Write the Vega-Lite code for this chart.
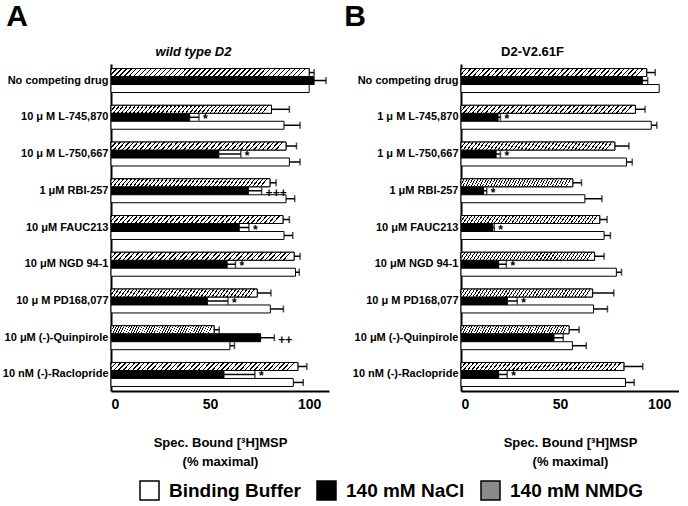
{
  "$schema": "https://vega.github.io/schema/vega-lite/v6.json",
  "padding": {"left": 2, "top": 2, "right": 0, "bottom": 0},
  "spacing": 15,
  "config": {
    "font": "Liberation Sans",
    "view": {"stroke": null},
    "axis": {"domainColor": "black", "labelColor": "black", "titleColor": "black", "grid": false, "ticks": false, "domainWidth": 2},
    "title": {"color": "black"}
  },
  "data": {"values": [
    {"p":"A","d":"No competing drug","c":"140 mM NMDG","v":100,"hi":102.5,"s":""},
    {"p":"A","d":"No competing drug","c":"140 mM NaCl","v":102.5,"hi":108.5,"s":""},
    {"p":"A","d":"No competing drug","c":"Binding Buffer","v":100,"hi":100,"s":""},
    {"p":"A","d":"10 μ M L-745,870","c":"140 mM NMDG","v":81,"hi":90,"s":""},
    {"p":"A","d":"10 μ M L-745,870","c":"140 mM NaCl","v":39.7,"hi":44.4,"s":"*"},
    {"p":"A","d":"10 μ M L-745,870","c":"Binding Buffer","v":87.3,"hi":95.4,"s":""},
    {"p":"A","d":"10 μ M L-750,667","c":"140 mM NMDG","v":88.3,"hi":93.6,"s":""},
    {"p":"A","d":"10 μ M L-750,667","c":"140 mM NaCl","v":54.4,"hi":65.5,"s":"*"},
    {"p":"A","d":"10 μ M L-750,667","c":"Binding Buffer","v":90,"hi":95.4,"s":""},
    {"p":"A","d":"1 μM RBI-257","c":"140 mM NMDG","v":80.2,"hi":83.3,"s":""},
    {"p":"A","d":"1 μM RBI-257","c":"140 mM NaCl","v":69.3,"hi":76,"s":"+++"},
    {"p":"A","d":"1 μM RBI-257","c":"Binding Buffer","v":88.3,"hi":92.7,"s":""},
    {"p":"A","d":"10 μM FAUC213","c":"140 mM NMDG","v":86.8,"hi":90,"s":""},
    {"p":"A","d":"10 μM FAUC213","c":"140 mM NaCl","v":64.7,"hi":69.6,"s":"*"},
    {"p":"A","d":"10 μM FAUC213","c":"Binding Buffer","v":87.3,"hi":91.7,"s":""},
    {"p":"A","d":"10 μM NGD 94-1","c":"140 mM NMDG","v":92.4,"hi":95.4,"s":""},
    {"p":"A","d":"10 μM NGD 94-1","c":"140 mM NaCl","v":58.6,"hi":62.8,"s":"*"},
    {"p":"A","d":"10 μM NGD 94-1","c":"Binding Buffer","v":93.1,"hi":95,"s":""},
    {"p":"A","d":"10 μ M PD168,077","c":"140 mM NMDG","v":73.8,"hi":80.7,"s":""},
    {"p":"A","d":"10 μ M PD168,077","c":"140 mM NaCl","v":48.6,"hi":59,"s":"*"},
    {"p":"A","d":"10 μ M PD168,077","c":"Binding Buffer","v":80.4,"hi":87,"s":""},
    {"p":"A","d":"10 μM (-)-Quinpirole","c":"140 mM NMDG","v":52,"hi":54.6,"s":""},
    {"p":"A","d":"10 μM (-)-Quinpirole","c":"140 mM NaCl","v":75.5,"hi":82.4,"s":"++"},
    {"p":"A","d":"10 μM (-)-Quinpirole","c":"Binding Buffer","v":60,"hi":62.3,"s":""},
    {"p":"A","d":"10 nM (-)-Raclopride","c":"140 mM NMDG","v":94.3,"hi":98.8,"s":""},
    {"p":"A","d":"10 nM (-)-Raclopride","c":"140 mM NaCl","v":57,"hi":72.6,"s":"*"},
    {"p":"A","d":"10 nM (-)-Raclopride","c":"Binding Buffer","v":92,"hi":97,"s":""},
    {"p":"B","d":"No competing drug","c":"140 mM NMDG","v":93.7,"hi":98,"s":""},
    {"p":"B","d":"No competing drug","c":"140 mM NaCl","v":91.5,"hi":94.2,"s":""},
    {"p":"B","d":"No competing drug","c":"Binding Buffer","v":100,"hi":100,"s":""},
    {"p":"B","d":"1 μ M L-745,870","c":"140 mM NMDG","v":88,"hi":92.9,"s":""},
    {"p":"B","d":"1 μ M L-745,870","c":"140 mM NaCl","v":18.7,"hi":19.9,"s":"*"},
    {"p":"B","d":"1 μ M L-745,870","c":"Binding Buffer","v":96,"hi":98.8,"s":""},
    {"p":"B","d":"1 μ M L-750,667","c":"140 mM NMDG","v":77.6,"hi":84.7,"s":""},
    {"p":"B","d":"1 μ M L-750,667","c":"140 mM NaCl","v":17.7,"hi":19.9,"s":"*"},
    {"p":"B","d":"1 μ M L-750,667","c":"Binding Buffer","v":83.5,"hi":86.4,"s":""},
    {"p":"B","d":"1 μM RBI-257","c":"140 mM NMDG","v":56.4,"hi":60.8,"s":""},
    {"p":"B","d":"1 μM RBI-257","c":"140 mM NaCl","v":11.4,"hi":13,"s":"*"},
    {"p":"B","d":"1 μM RBI-257","c":"Binding Buffer","v":62.5,"hi":71.1,"s":""},
    {"p":"B","d":"10 μM FAUC213","c":"140 mM NMDG","v":70,"hi":73.7,"s":""},
    {"p":"B","d":"10 μM FAUC213","c":"140 mM NaCl","v":16,"hi":16.8,"s":"*"},
    {"p":"B","d":"10 μM FAUC213","c":"Binding Buffer","v":72.2,"hi":75.4,"s":""},
    {"p":"B","d":"10 μM NGD 94-1","c":"140 mM NMDG","v":67.4,"hi":72.2,"s":""},
    {"p":"B","d":"10 μM NGD 94-1","c":"140 mM NaCl","v":19,"hi":22.9,"s":"*"},
    {"p":"B","d":"10 μM NGD 94-1","c":"Binding Buffer","v":78.4,"hi":81,"s":""},
    {"p":"B","d":"10 μ M PD168,077","c":"140 mM NMDG","v":66.4,"hi":77.1,"s":""},
    {"p":"B","d":"10 μ M PD168,077","c":"140 mM NaCl","v":23.4,"hi":28.4,"s":"*"},
    {"p":"B","d":"10 μ M PD168,077","c":"Binding Buffer","v":66.9,"hi":73.9,"s":""},
    {"p":"B","d":"10 μM (-)-Quinpirole","c":"140 mM NMDG","v":54.5,"hi":59.6,"s":""},
    {"p":"B","d":"10 μM (-)-Quinpirole","c":"140 mM NaCl","v":46.9,"hi":51.6,"s":""},
    {"p":"B","d":"10 μM (-)-Quinpirole","c":"Binding Buffer","v":56.2,"hi":63.2,"s":""},
    {"p":"B","d":"10 nM (-)-Raclopride","c":"140 mM NMDG","v":82.2,"hi":91.7,"s":""},
    {"p":"B","d":"10 nM (-)-Raclopride","c":"140 mM NaCl","v":19,"hi":23.3,"s":"*"},
    {"p":"B","d":"10 nM (-)-Raclopride","c":"Binding Buffer","v":83,"hi":87.4,"s":""}
  ]},
  "hconcat": [
    {
      "width": 218, "height": 327,
      "transform": [{"filter": "datum.p == 'A'"}],
      "title": {"text": "A", "anchor": "start", "frame": "bounds", "fontSize": 30, "fontWeight": "bold", "baseline": "alphabetic", "offset": -11, "dx": 4, "font": "Liberation Sans"},
      "encoding": {
        "y": {"field": "d", "type": "nominal", "sort": null,
          "scale": {"paddingInner": 0.348, "paddingOuter": 0.124},
          "axis": {"title": "wild type D2", "titleAngle": 0, "titleX": 82, "titleY": -9, "titleAlign": "center", "titleBaseline": "alphabetic", "titleFontSize": 13, "titleFontWeight": "bold", "titleFontStyle": "italic", "labelFontSize": 11, "labelFontWeight": "bold", "labelPadding": 3, "labelLimit": 200}},
        "yOffset": {"field": "c", "type": "nominal", "sort": ["140 mM NMDG", "140 mM NaCl", "Binding Buffer"], "scale": {"paddingInner": 0, "paddingOuter": 0}}
      },
      "layer": [
        {
          "mark": {"type": "bar", "stroke": "black", "strokeWidth": 1},
          "encoding": {
            "x": {"field": "v", "type": "quantitative", "scale": {"domain": [0, 110], "nice": false},
              "axis": {"values": [0, 50, 100], "title": ["Spec. Bound [³H]MSP", "(% maximal)"], "titleFontSize": 13, "titleFontWeight": "bold", "titlePadding": 25, "titleLineHeight": 19, "labelFontSize": 14, "labelFontWeight": "bold", "labelPadding": 6}},
            "color": {"field": "c", "type": "nominal",
              "scale": {"domain": ["Binding Buffer", "140 mM NaCl", "140 mM NMDG"], "range": ["white", "black", "#8a8a8a"]},
              "legend": {"orient": "none", "legendX": 28, "legendY": 416, "direction": "horizontal", "title": null, "symbolType": "square", "symbolSize": 361, "symbolStrokeColor": "black", "symbolStrokeWidth": 1.5, "symbolOpacity": 1, "labelFontSize": 19, "labelFontWeight": "bold", "labelColor": "black", "columnPadding": 13, "labelOffset": 9}}
          }
        },
        {
          "transform": [{"filter": "datum.c == '140 mM NMDG'"}],
          "mark": {"type": "bar", "stroke": "black", "strokeWidth": 1, "fill": {"gradient": "linear", "x1": 0, "y1": 0, "x2": 1, "y2": 0.04, "stops": [
{"offset":0,"color":"black"},{"offset":0.008,"color":"black"},{"offset":0.008,"color":"white"},{"offset":0.025,"color":"white"},
{"offset":0.025,"color":"black"},{"offset":0.033,"color":"black"},{"offset":0.033,"color":"white"},{"offset":0.05,"color":"white"},
{"offset":0.05,"color":"black"},{"offset":0.058,"color":"black"},{"offset":0.058,"color":"white"},{"offset":0.075,"color":"white"},
{"offset":0.075,"color":"black"},{"offset":0.083,"color":"black"},{"offset":0.083,"color":"white"},{"offset":0.1,"color":"white"},
{"offset":0.1,"color":"black"},{"offset":0.108,"color":"black"},{"offset":0.108,"color":"white"},{"offset":0.125,"color":"white"},
{"offset":0.125,"color":"black"},{"offset":0.133,"color":"black"},{"offset":0.133,"color":"white"},{"offset":0.15,"color":"white"},
{"offset":0.15,"color":"black"},{"offset":0.158,"color":"black"},{"offset":0.158,"color":"white"},{"offset":0.175,"color":"white"},
{"offset":0.175,"color":"black"},{"offset":0.183,"color":"black"},{"offset":0.183,"color":"white"},{"offset":0.2,"color":"white"},
{"offset":0.2,"color":"black"},{"offset":0.208,"color":"black"},{"offset":0.208,"color":"white"},{"offset":0.225,"color":"white"},
{"offset":0.225,"color":"black"},{"offset":0.233,"color":"black"},{"offset":0.233,"color":"white"},{"offset":0.25,"color":"white"},
{"offset":0.25,"color":"black"},{"offset":0.258,"color":"black"},{"offset":0.258,"color":"white"},{"offset":0.275,"color":"white"},
{"offset":0.275,"color":"black"},{"offset":0.283,"color":"black"},{"offset":0.283,"color":"white"},{"offset":0.3,"color":"white"},
{"offset":0.3,"color":"black"},{"offset":0.308,"color":"black"},{"offset":0.308,"color":"white"},{"offset":0.325,"color":"white"},
{"offset":0.325,"color":"black"},{"offset":0.333,"color":"black"},{"offset":0.333,"color":"white"},{"offset":0.35,"color":"white"},
{"offset":0.35,"color":"black"},{"offset":0.358,"color":"black"},{"offset":0.358,"color":"white"},{"offset":0.375,"color":"white"},
{"offset":0.375,"color":"black"},{"offset":0.383,"color":"black"},{"offset":0.383,"color":"white"},{"offset":0.4,"color":"white"},
{"offset":0.4,"color":"black"},{"offset":0.408,"color":"black"},{"offset":0.408,"color":"white"},{"offset":0.425,"color":"white"},
{"offset":0.425,"color":"black"},{"offset":0.433,"color":"black"},{"offset":0.433,"color":"white"},{"offset":0.45,"color":"white"},
{"offset":0.45,"color":"black"},{"offset":0.458,"color":"black"},{"offset":0.458,"color":"white"},{"offset":0.475,"color":"white"},
{"offset":0.475,"color":"black"},{"offset":0.483,"color":"black"},{"offset":0.483,"color":"white"},{"offset":0.5,"color":"white"},
{"offset":0.5,"color":"black"},{"offset":0.508,"color":"black"},{"offset":0.508,"color":"white"},{"offset":0.525,"color":"white"},
{"offset":0.525,"color":"black"},{"offset":0.533,"color":"black"},{"offset":0.533,"color":"white"},{"offset":0.55,"color":"white"},
{"offset":0.55,"color":"black"},{"offset":0.558,"color":"black"},{"offset":0.558,"color":"white"},{"offset":0.575,"color":"white"},
{"offset":0.575,"color":"black"},{"offset":0.583,"color":"black"},{"offset":0.583,"color":"white"},{"offset":0.6,"color":"white"},
{"offset":0.6,"color":"black"},{"offset":0.608,"color":"black"},{"offset":0.608,"color":"white"},{"offset":0.625,"color":"white"},
{"offset":0.625,"color":"black"},{"offset":0.633,"color":"black"},{"offset":0.633,"color":"white"},{"offset":0.65,"color":"white"},
{"offset":0.65,"color":"black"},{"offset":0.658,"color":"black"},{"offset":0.658,"color":"white"},{"offset":0.675,"color":"white"},
{"offset":0.675,"color":"black"},{"offset":0.683,"color":"black"},{"offset":0.683,"color":"white"},{"offset":0.7,"color":"white"},
{"offset":0.7,"color":"black"},{"offset":0.708,"color":"black"},{"offset":0.708,"color":"white"},{"offset":0.725,"color":"white"},
{"offset":0.725,"color":"black"},{"offset":0.733,"color":"black"},{"offset":0.733,"color":"white"},{"offset":0.75,"color":"white"},
{"offset":0.75,"color":"black"},{"offset":0.758,"color":"black"},{"offset":0.758,"color":"white"},{"offset":0.775,"color":"white"},
{"offset":0.775,"color":"black"},{"offset":0.783,"color":"black"},{"offset":0.783,"color":"white"},{"offset":0.8,"color":"white"},
{"offset":0.8,"color":"black"},{"offset":0.808,"color":"black"},{"offset":0.808,"color":"white"},{"offset":0.825,"color":"white"},
{"offset":0.825,"color":"black"},{"offset":0.833,"color":"black"},{"offset":0.833,"color":"white"},{"offset":0.85,"color":"white"},
{"offset":0.85,"color":"black"},{"offset":0.858,"color":"black"},{"offset":0.858,"color":"white"},{"offset":0.875,"color":"white"},
{"offset":0.875,"color":"black"},{"offset":0.883,"color":"black"},{"offset":0.883,"color":"white"},{"offset":0.9,"color":"white"},
{"offset":0.9,"color":"black"},{"offset":0.908,"color":"black"},{"offset":0.908,"color":"white"},{"offset":0.925,"color":"white"},
{"offset":0.925,"color":"black"},{"offset":0.933,"color":"black"},{"offset":0.933,"color":"white"},{"offset":0.95,"color":"white"},
{"offset":0.95,"color":"black"},{"offset":0.958,"color":"black"},{"offset":0.958,"color":"white"},{"offset":0.975,"color":"white"},
{"offset":0.975,"color":"black"},{"offset":0.983,"color":"black"},{"offset":0.983,"color":"white"},{"offset":1,"color":"white"}
]}},
          "encoding": {"x": {"field": "v", "type": "quantitative", "axis": {"title": ["Spec. Bound [³H]MSP", "(% maximal)"]}}}
        },
        {
          "transform": [{"filter": "datum.hi > datum.v"}],
          "mark": {"type": "rule", "color": "black", "strokeWidth": 1.5},
          "encoding": {"x": {"field": "v", "type": "quantitative", "axis": {"title": ["Spec. Bound [³H]MSP", "(% maximal)"]}}, "x2": {"field": "hi"}}
        },
        {
          "transform": [{"filter": "datum.hi > datum.v"}],
          "mark": {"type": "tick", "color": "black", "size": 7, "thickness": 1.5, "orient": "vertical"},
          "encoding": {"x": {"field": "hi", "type": "quantitative", "axis": {"title": ["Spec. Bound [³H]MSP", "(% maximal)"]}}}
        },
        {
          "transform": [{"filter": "datum.s != ''"}],
          "mark": {"type": "text", "align": "left", "baseline": "middle", "dx": 4, "dy": 2, "fontSize": 12, "fontWeight": "bold", "color": "black"},
          "encoding": {"x": {"field": "hi", "type": "quantitative", "axis": {"title": ["Spec. Bound [³H]MSP", "(% maximal)"]}}, "text": {"field": "s"}}
        }
      ]
    },
    {
      "width": 218, "height": 327,
      "transform": [{"filter": "datum.p == 'B'"}],
      "title": {"text": "B", "anchor": "start", "frame": "bounds", "fontSize": 30, "fontWeight": "bold", "baseline": "alphabetic", "offset": -11, "dx": -8, "font": "Liberation Sans"},
      "encoding": {
        "y": {"field": "d", "type": "nominal", "sort": null,
          "scale": {"paddingInner": 0.348, "paddingOuter": 0.124},
          "axis": {"title": "D2-V2.61F", "titleAngle": 0, "titleX": 71, "titleY": -9, "titleAlign": "center", "titleBaseline": "alphabetic", "titleFontSize": 13, "titleFontWeight": "bold", "labelFontSize": 11, "labelFontWeight": "bold", "labelPadding": 3, "labelLimit": 200}},
        "yOffset": {"field": "c", "type": "nominal", "sort": ["140 mM NMDG", "140 mM NaCl", "Binding Buffer"], "scale": {"paddingInner": 0, "paddingOuter": 0}}
      },
      "layer": [
        {
          "mark": {"type": "bar", "stroke": "black", "strokeWidth": 1},
          "encoding": {
            "x": {"field": "v", "type": "quantitative", "scale": {"domain": [0, 110], "nice": false},
              "axis": {"values": [0, 50, 100], "title": ["Spec. Bound [³H]MSP", "(% maximal)"], "titleFontSize": 13, "titleFontWeight": "bold", "titlePadding": 25, "titleLineHeight": 19, "labelFontSize": 14, "labelFontWeight": "bold", "labelPadding": 6}},
            "color": {"field": "c", "type": "nominal",
              "scale": {"domain": ["Binding Buffer", "140 mM NaCl", "140 mM NMDG"], "range": ["white", "black", "#8a8a8a"]},
              "legend": {"orient": "none", "legendX": 28, "legendY": 416, "direction": "horizontal", "title": null, "symbolType": "square", "symbolSize": 361, "symbolStrokeColor": "black", "symbolStrokeWidth": 1.5, "symbolOpacity": 1, "labelFontSize": 19, "labelFontWeight": "bold", "labelColor": "black", "columnPadding": 13, "labelOffset": 9}}
          }
        },
        {
          "transform": [{"filter": "datum.c == '140 mM NMDG'"}],
          "mark": {"type": "bar", "stroke": "black", "strokeWidth": 1, "fill": {"gradient": "linear", "x1": 0, "y1": 0, "x2": 1, "y2": 0.04, "stops": [
{"offset":0,"color":"black"},{"offset":0.008,"color":"black"},{"offset":0.008,"color":"white"},{"offset":0.025,"color":"white"},
{"offset":0.025,"color":"black"},{"offset":0.033,"color":"black"},{"offset":0.033,"color":"white"},{"offset":0.05,"color":"white"},
{"offset":0.05,"color":"black"},{"offset":0.058,"color":"black"},{"offset":0.058,"color":"white"},{"offset":0.075,"color":"white"},
{"offset":0.075,"color":"black"},{"offset":0.083,"color":"black"},{"offset":0.083,"color":"white"},{"offset":0.1,"color":"white"},
{"offset":0.1,"color":"black"},{"offset":0.108,"color":"black"},{"offset":0.108,"color":"white"},{"offset":0.125,"color":"white"},
{"offset":0.125,"color":"black"},{"offset":0.133,"color":"black"},{"offset":0.133,"color":"white"},{"offset":0.15,"color":"white"},
{"offset":0.15,"color":"black"},{"offset":0.158,"color":"black"},{"offset":0.158,"color":"white"},{"offset":0.175,"color":"white"},
{"offset":0.175,"color":"black"},{"offset":0.183,"color":"black"},{"offset":0.183,"color":"white"},{"offset":0.2,"color":"white"},
{"offset":0.2,"color":"black"},{"offset":0.208,"color":"black"},{"offset":0.208,"color":"white"},{"offset":0.225,"color":"white"},
{"offset":0.225,"color":"black"},{"offset":0.233,"color":"black"},{"offset":0.233,"color":"white"},{"offset":0.25,"color":"white"},
{"offset":0.25,"color":"black"},{"offset":0.258,"color":"black"},{"offset":0.258,"color":"white"},{"offset":0.275,"color":"white"},
{"offset":0.275,"color":"black"},{"offset":0.283,"color":"black"},{"offset":0.283,"color":"white"},{"offset":0.3,"color":"white"},
{"offset":0.3,"color":"black"},{"offset":0.308,"color":"black"},{"offset":0.308,"color":"white"},{"offset":0.325,"color":"white"},
{"offset":0.325,"color":"black"},{"offset":0.333,"color":"black"},{"offset":0.333,"color":"white"},{"offset":0.35,"color":"white"},
{"offset":0.35,"color":"black"},{"offset":0.358,"color":"black"},{"offset":0.358,"color":"white"},{"offset":0.375,"color":"white"},
{"offset":0.375,"color":"black"},{"offset":0.383,"color":"black"},{"offset":0.383,"color":"white"},{"offset":0.4,"color":"white"},
{"offset":0.4,"color":"black"},{"offset":0.408,"color":"black"},{"offset":0.408,"color":"white"},{"offset":0.425,"color":"white"},
{"offset":0.425,"color":"black"},{"offset":0.433,"color":"black"},{"offset":0.433,"color":"white"},{"offset":0.45,"color":"white"},
{"offset":0.45,"color":"black"},{"offset":0.458,"color":"black"},{"offset":0.458,"color":"white"},{"offset":0.475,"color":"white"},
{"offset":0.475,"color":"black"},{"offset":0.483,"color":"black"},{"offset":0.483,"color":"white"},{"offset":0.5,"color":"white"},
{"offset":0.5,"color":"black"},{"offset":0.508,"color":"black"},{"offset":0.508,"color":"white"},{"offset":0.525,"color":"white"},
{"offset":0.525,"color":"black"},{"offset":0.533,"color":"black"},{"offset":0.533,"color":"white"},{"offset":0.55,"color":"white"},
{"offset":0.55,"color":"black"},{"offset":0.558,"color":"black"},{"offset":0.558,"color":"white"},{"offset":0.575,"color":"white"},
{"offset":0.575,"color":"black"},{"offset":0.583,"color":"black"},{"offset":0.583,"color":"white"},{"offset":0.6,"color":"white"},
{"offset":0.6,"color":"black"},{"offset":0.608,"color":"black"},{"offset":0.608,"color":"white"},{"offset":0.625,"color":"white"},
{"offset":0.625,"color":"black"},{"offset":0.633,"color":"black"},{"offset":0.633,"color":"white"},{"offset":0.65,"color":"white"},
{"offset":0.65,"color":"black"},{"offset":0.658,"color":"black"},{"offset":0.658,"color":"white"},{"offset":0.675,"color":"white"},
{"offset":0.675,"color":"black"},{"offset":0.683,"color":"black"},{"offset":0.683,"color":"white"},{"offset":0.7,"color":"white"},
{"offset":0.7,"color":"black"},{"offset":0.708,"color":"black"},{"offset":0.708,"color":"white"},{"offset":0.725,"color":"white"},
{"offset":0.725,"color":"black"},{"offset":0.733,"color":"black"},{"offset":0.733,"color":"white"},{"offset":0.75,"color":"white"},
{"offset":0.75,"color":"black"},{"offset":0.758,"color":"black"},{"offset":0.758,"color":"white"},{"offset":0.775,"color":"white"},
{"offset":0.775,"color":"black"},{"offset":0.783,"color":"black"},{"offset":0.783,"color":"white"},{"offset":0.8,"color":"white"},
{"offset":0.8,"color":"black"},{"offset":0.808,"color":"black"},{"offset":0.808,"color":"white"},{"offset":0.825,"color":"white"},
{"offset":0.825,"color":"black"},{"offset":0.833,"color":"black"},{"offset":0.833,"color":"white"},{"offset":0.85,"color":"white"},
{"offset":0.85,"color":"black"},{"offset":0.858,"color":"black"},{"offset":0.858,"color":"white"},{"offset":0.875,"color":"white"},
{"offset":0.875,"color":"black"},{"offset":0.883,"color":"black"},{"offset":0.883,"color":"white"},{"offset":0.9,"color":"white"},
{"offset":0.9,"color":"black"},{"offset":0.908,"color":"black"},{"offset":0.908,"color":"white"},{"offset":0.925,"color":"white"},
{"offset":0.925,"color":"black"},{"offset":0.933,"color":"black"},{"offset":0.933,"color":"white"},{"offset":0.95,"color":"white"},
{"offset":0.95,"color":"black"},{"offset":0.958,"color":"black"},{"offset":0.958,"color":"white"},{"offset":0.975,"color":"white"},
{"offset":0.975,"color":"black"},{"offset":0.983,"color":"black"},{"offset":0.983,"color":"white"},{"offset":1,"color":"white"}
]}},
          "encoding": {"x": {"field": "v", "type": "quantitative", "axis": {"title": ["Spec. Bound [³H]MSP", "(% maximal)"]}}}
        },
        {
          "transform": [{"filter": "datum.hi > datum.v"}],
          "mark": {"type": "rule", "color": "black", "strokeWidth": 1.5},
          "encoding": {"x": {"field": "v", "type": "quantitative", "axis": {"title": ["Spec. Bound [³H]MSP", "(% maximal)"]}}, "x2": {"field": "hi"}}
        },
        {
          "transform": [{"filter": "datum.hi > datum.v"}],
          "mark": {"type": "tick", "color": "black", "size": 7, "thickness": 1.5, "orient": "vertical"},
          "encoding": {"x": {"field": "hi", "type": "quantitative", "axis": {"title": ["Spec. Bound [³H]MSP", "(% maximal)"]}}}
        },
        {
          "transform": [{"filter": "datum.s != ''"}],
          "mark": {"type": "text", "align": "left", "baseline": "middle", "dx": 4, "dy": 2, "fontSize": 12, "fontWeight": "bold", "color": "black"},
          "encoding": {"x": {"field": "hi", "type": "quantitative", "axis": {"title": ["Spec. Bound [³H]MSP", "(% maximal)"]}}, "text": {"field": "s"}}
        }
      ]
    }
  ]
}
